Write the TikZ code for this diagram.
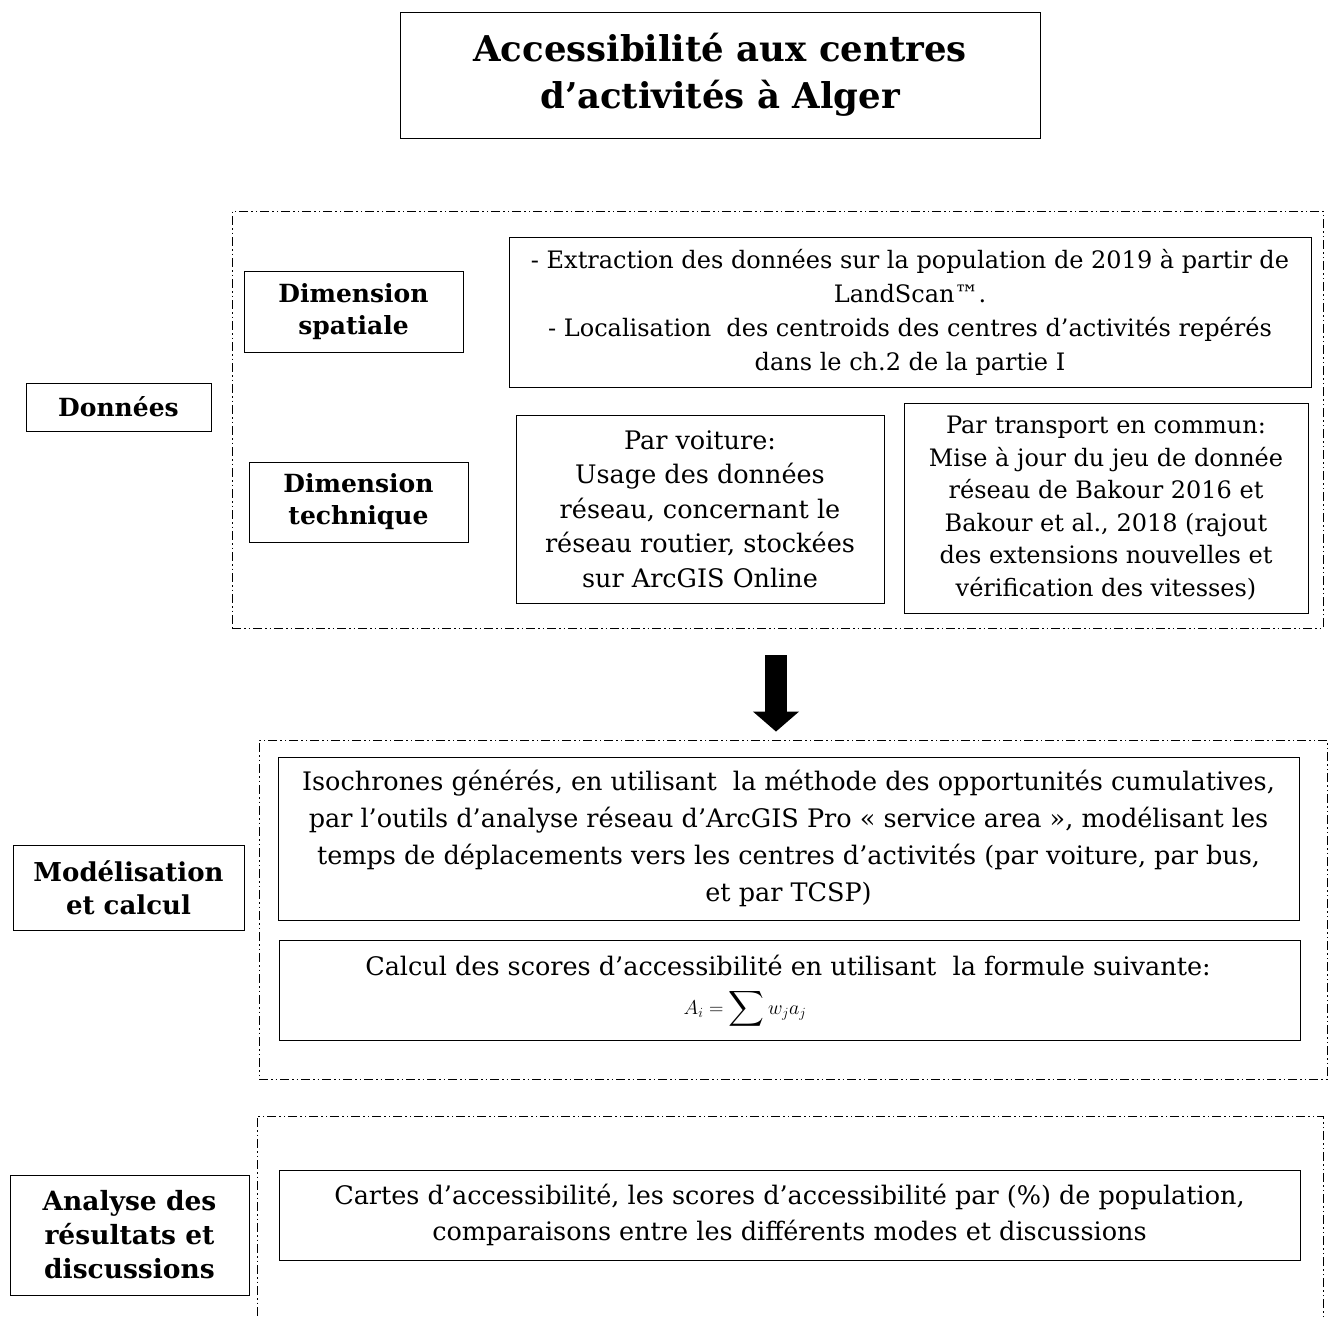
\RequirePackage{fix-cm}
\documentclass[tikz,border=0pt]{standalone}
\usepackage{exscale}
\usepackage{fontspec}
\setmainfont{DejaVu Serif}
\usetikzlibrary{arrows.meta}
\tikzset{
  box/.style={draw, line width=1pt, inner sep=0pt, align=center},
  lbl/.style={box, font=\bfseries\fontsize{25}{32}\selectfont},
  txt/.style={box, font=\fontsize{24}{34}\selectfont},
  plain/.style={inner sep=0pt, align=center},
  grp/.style={draw, line width=0.9pt, inner sep=0pt,
    dash pattern=on 9pt off 3pt on 1.5pt off 3pt on 1.5pt off 3pt},
  bigarrow/.style={line width=22pt, -{Triangle[width=45pt,length=20pt]}}
}
\begin{document}
\begin{tikzpicture}[x=1pt,y=-1pt]
\useasboundingbox[fill=white] (0,0) rectangle (1333,1318);
% groups
\node[grp, minimum width=1091pt, minimum height=417pt] (data) at (777.5,419.5) {};
\node[grp, minimum width=1068pt, minimum height=339pt] (model) at (793,909.5) {};
\begin{scope}
\clip (0,0) rectangle (1333,1318);
\node[grp, minimum width=1066pt, minimum height=260pt] (analyse) at (790,1246) {};
\end{scope}
% title
\node[box, minimum width=640pt, minimum height=126pt,
  font=\bfseries\fontsize{35.5}{47}\selectfont] (title) at (720,75)
  {Accessibilité aux centres\\d’activités à Alger};
% left labels
\node[lbl, minimum width=185pt, minimum height=48pt] (donnees) at (118.5,407) {Données};
\node[lbl, minimum width=231pt, minimum height=85pt,
  font=\bfseries\fontsize{26}{33}\selectfont] (modlbl) at (128.5,887.5) {Modélisation\\et calcul};
\node[lbl, minimum width=239pt, minimum height=120pt,
  font=\bfseries\fontsize{26.5}{34}\selectfont] (anlbl) at (129.5,1235) {Analyse des\\résultats et\\discussions};
% dimension labels
\node[lbl, minimum width=219pt, minimum height=81pt] (spat) at (353.5,311.5) {Dimension\\spatiale};
\node[lbl, minimum width=219pt, minimum height=80pt] (tech) at (358.5,502) {Dimension\\technique};
% data boxes
\node[txt, minimum width=802pt, minimum height=150pt] (pop) at (910,312)
  {- Extraction des données sur la population de 2019 à partir de\\
   LandScan™.\\
   - Localisation\ \ des centroids des centres d’activités repérés\\
   dans le ch.2 de la partie I};
\node[txt, minimum width=368pt, minimum height=188pt,
  font=\fontsize{25.5}{34.5}\selectfont] (voit) at (700,509)
  {Par voiture:\\Usage des données\\réseau, concernant le\\réseau routier, stockées\\sur ArcGIS Online};
\node[txt, minimum width=404pt, minimum height=210pt,
  font=\fontsize{24}{32.5}\selectfont] (tc) at (1106,508)
  {Par transport en commun:\\Mise à jour du jeu de donnée\\réseau de Bakour 2016 et\\Bakour et al., 2018 (rajout\\des extensions nouvelles et\\vérification des vitesses)};
% model boxes
\node[txt, minimum width=1021pt, minimum height=163pt,
  font=\fontsize{25.5}{37}\selectfont] (iso) at (788.5,838.5)
  {Isochrones générés, en utilisant\ \ la méthode des opportunités cumulatives,\\
   par l’outils d’analyse réseau d’ArcGIS Pro « service area », modélisant les\\
   temps de déplacements vers les centres d’activités (par voiture, par bus,\\
   et par TCSP)};
\node[box, minimum width=1021pt, minimum height=100pt] (calc) at (789.5,990) {};
\node[plain, font=\fontsize{25.5}{34}\selectfont] (calctxt) at (788,965)
  {Calcul des scores d’accessibilité en utilisant\ \ la formule suivante:};
\node[plain, font=\fontsize{20}{22}\selectfont] (formula) at (745,1009)
  {$A_i=\mathop{\vcenter{\hbox{\fontsize{23}{23}\selectfont$\displaystyle\sum$}}} w_ja_j$};
% results
\node[txt, minimum width=1021pt, minimum height=90pt,
  font=\fontsize{25.5}{36}\selectfont] (cartes) at (789.5,1215)
  {Cartes d’accessibilité, les scores d’accessibilité par (\%) de population,\\
   comparaisons entre les différents modes et discussions};
% arrow
\draw[bigarrow] ([yshift=-27pt]data.south -| 776,0) -- ([yshift=8pt]model.north -| 776,0);
\end{tikzpicture}
\end{document}
